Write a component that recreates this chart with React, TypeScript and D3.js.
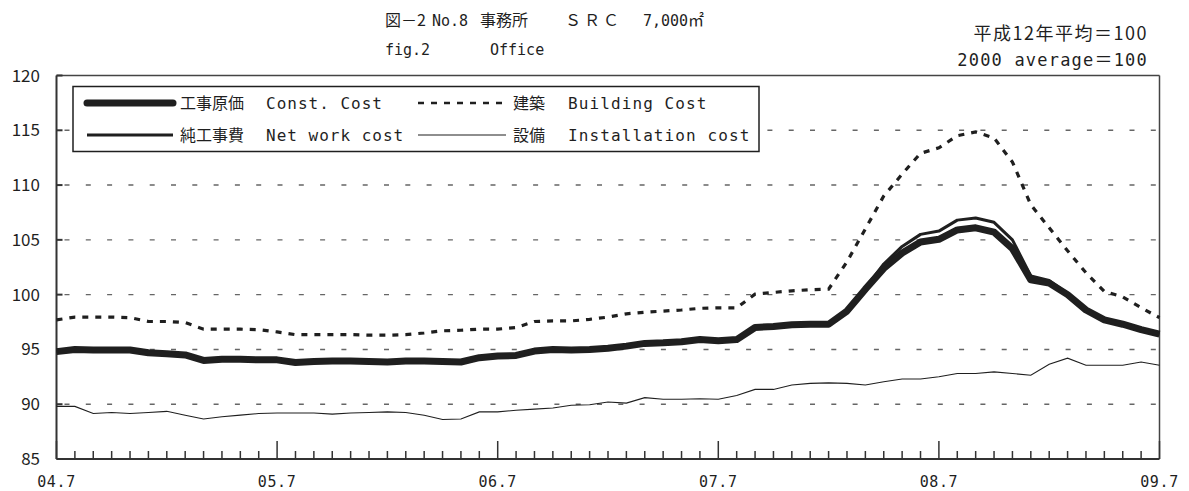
import React from "react";
import * as d3 from "d3";

// Monthly index, 2004.7 .. 2009.7 (61 months)
const monthsCount = 61;
const xTickLabels = ["04.7", "05.7", "06.7", "07.7", "08.7", "09.7"];
const yTicks = [85, 90, 95, 100, 105, 110, 115, 120];
const gridValues = [90, 95, 100, 105, 110, 115];

const constCost = [
  94.8, 95.0, 94.95, 94.95, 94.95, 94.7, 94.6, 94.5, 94.0, 94.1,
  94.1, 94.05, 94.05, 93.8, 93.9, 93.95, 93.95, 93.9, 93.85, 93.95,
  93.95, 93.9, 93.85, 94.25, 94.4, 94.45, 94.85, 95.0, 94.95, 95.0,
  95.1, 95.3, 95.55, 95.6, 95.7, 95.9, 95.8, 95.9, 97.0, 97.1,
  97.25, 97.3, 97.3, 98.5, 100.5, 102.4, 103.8, 104.8, 105.05, 105.9,
  106.1, 105.7, 104.2, 101.35, 101.05, 100.0, 98.6, 97.7, 97.3, 96.8,
  96.4,
];

const netWorkCost = [
  94.8, 95.0, 94.95, 94.95, 94.95, 94.7, 94.6, 94.5, 94.0, 94.1,
  94.1, 94.05, 94.05, 93.8, 93.9, 93.95, 93.95, 93.9, 93.85, 93.95,
  93.95, 93.9, 93.85, 94.25, 94.4, 94.45, 94.85, 95.0, 94.95, 95.0,
  95.1, 95.3, 95.55, 95.6, 95.7, 95.9, 95.8, 95.9, 97.0, 97.1,
  97.25, 97.3, 97.3, 98.5, 100.6, 102.8, 104.4, 105.5, 105.8, 106.8,
  107.0, 106.6, 105.0, 101.7, 101.3, 100.1, 98.6, 97.7, 97.3, 96.8,
  96.4,
];

const buildingCost = [
  97.7, 97.95, 97.95, 97.95, 97.9, 97.55, 97.55, 97.45, 96.85, 96.85,
  96.85, 96.8, 96.6, 96.35, 96.35, 96.35, 96.35, 96.3, 96.3, 96.35,
  96.5, 96.7, 96.75, 96.85, 96.85, 97.0, 97.55, 97.6, 97.6, 97.75,
  97.95, 98.25, 98.4, 98.5, 98.6, 98.75, 98.8, 98.8, 100.05, 100.2,
  100.35, 100.45, 100.5, 103.0, 106.0, 109.0, 111.0, 112.9, 113.4, 114.5,
  114.85, 114.3, 112.1, 108.2, 106.1, 104.0, 102.0, 100.3, 99.8, 98.8,
  97.9,
];

const installationCost = [
  89.8, 89.8, 89.15, 89.25, 89.15, 89.25, 89.35, 89.0, 88.65, 88.85,
  89.0, 89.15, 89.2, 89.2, 89.2, 89.1, 89.2, 89.25, 89.3, 89.25,
  89.0, 88.6, 88.65, 89.3, 89.3, 89.45, 89.55, 89.65, 89.9, 89.95,
  90.2, 90.1, 90.6, 90.45, 90.45, 90.5, 90.45, 90.8, 91.35, 91.35,
  91.75, 91.9, 91.95, 91.9, 91.75, 92.05, 92.3, 92.3, 92.5, 92.8,
  92.8, 92.95, 92.8, 92.65, 93.65, 94.2, 93.55, 93.55, 93.55, 93.85,
  93.55,
];

const W = 1189;
const H = 491;
const left = 56.5;
const right = 1159.5;
const top = 75.5;
const bottom = 459;

const NARROW = "'Liberation Sans Narrow', 'Noto Sans CJK JP', sans-serif";
const MONO = "'DejaVu Sans Mono', monospace";
const CJK = "'Noto Sans CJK JP', sans-serif";
const INK = "#1f1f1f";

export default function App() {
  const x = d3.scaleLinear().domain([0, monthsCount - 1]).range([left, right]);
  const y = d3.scaleLinear().domain([85, 120]).range([bottom, top]);
  const line = d3
    .line<number>()
    .x((_, i) => x(i))
    .y((d) => y(d));

  const monthIdx = d3.range(monthsCount);

  return (
    <svg width={W} height={H} style={{ position: "absolute", left: 0, top: 0, background: "#fff" }}>
      {/* Title */}
      <g fill={INK} fontSize={16}>
        <text x={385} y={26} fontFamily={CJK}>図－2</text>
        <text x={432} y={26} fontFamily={MONO} fontSize={15}>No.8</text>
        <text x={480} y={26} fontFamily={CJK}>事務所</text>
        <text x={565} y={26} fontFamily={CJK} letterSpacing={3}>ＳＲＣ</text>
        <text x={643} y={26} fontFamily={MONO} fontSize={15}>7,000</text>
        <text x={688} y={26} fontFamily={CJK}>㎡</text>
        <text x={385} y={55} fontFamily={MONO} fontSize={15}>fig.2</text>
        <text x={490} y={55} fontFamily={MONO} fontSize={15}>Office</text>
        <text x={1148} y={40} textAnchor="end" fontFamily={CJK} fontSize={18} letterSpacing={1.5}>
          平成12年平均＝100
        </text>
        <text x={1148} y={66} textAnchor="end" fontFamily={MONO} fontSize={17} letterSpacing={1.2}>
          2000 average<tspan fontFamily={CJK} fontSize={18}>＝</tspan>100
        </text>
      </g>

      {/* Grid lines */}
      {gridValues.map((v) => (
        <line
          key={v}
          x1={left + 8}
          x2={right}
          y1={y(v)}
          y2={y(v)}
          stroke="#666"
          strokeWidth={1.4}
          strokeDasharray="5 16.3"
        />
      ))}

      {/* Frame */}
      <line x1={left} x2={right} y1={top} y2={top} stroke="#444" strokeWidth={1.5} />
      <line x1={right} x2={right} y1={top} y2={bottom} stroke="#444" strokeWidth={1.5} />
      <line x1={left} x2={left} y1={top} y2={bottom} stroke="#333" strokeWidth={2} />
      <line x1={left} x2={right} y1={bottom} y2={bottom} stroke="#333" strokeWidth={2} />

      {/* Y ticks and labels */}
      {yTicks.map((v) => (
        <g key={v}>
          <line x1={left} x2={left + 6} y1={y(v)} y2={y(v)} stroke="#333" strokeWidth={2} />
          <text x={40} y={y(v) + 6} textAnchor="end" fontFamily={NARROW} fontSize={17} fill={INK}>
            {v}
          </text>
        </g>
      ))}

      {/* X ticks */}
      {monthIdx.map((i) => {
        const major = i % 12 === 0;
        return (
          <line
            key={i}
            x1={x(i)}
            x2={x(i)}
            y1={bottom}
            y2={bottom - (major ? 18 : 8)}
            stroke="#333"
            strokeWidth={1.5}
          />
        );
      })}
      {xTickLabels.map((t, k) => (
        <text
          key={t}
          x={x(k * 12)}
          y={487}
          textAnchor="middle"
          fontFamily={MONO}
          fontSize={15}
          letterSpacing={0.6}
          fill={INK}
        >
          {t}
        </text>
      ))}

      {/* Series */}
      <path d={line(installationCost) || ""} fill="none" stroke={INK} strokeWidth={1.1} />
      <path
        d={line(buildingCost) || ""}
        fill="none"
        stroke={INK}
        strokeWidth={3.2}
        strokeDasharray="6 7"
      />
      <path d={line(constCost) || ""} fill="none" stroke={INK} strokeWidth={7} strokeLinejoin="round" />
      <path d={line(netWorkCost) || ""} fill="none" stroke={INK} strokeWidth={3} strokeLinejoin="round" />

      {/* Legend */}
      <rect x={73} y={86.5} width={686} height={65} fill="#fff" stroke={INK} strokeWidth={1.5} />
      <g fill={INK}>
        <line x1={87} x2={173} y1={103} y2={103} stroke={INK} strokeWidth={7} strokeLinecap="round" />
        <text x={180} y={109} fontFamily={CJK} fontSize={16}>工事原価</text>
        <text x={266} y={109} fontFamily={MONO} fontSize={16} letterSpacing={1}>Const. Cost</text>
        <line x1={418} x2={506} y1={103} y2={103} stroke={INK} strokeWidth={2.6} strokeDasharray="6 7" />
        <text x={513} y={109} fontFamily={CJK} fontSize={16}>建築</text>
        <text x={568} y={109} fontFamily={MONO} fontSize={16} letterSpacing={1.1}>Building Cost</text>

        <line x1={87} x2={173} y1={135} y2={135} stroke={INK} strokeWidth={3} />
        <text x={180} y={141} fontFamily={CJK} fontSize={16}>純工事費</text>
        <text x={266} y={141} fontFamily={MONO} fontSize={16} letterSpacing={1}>Net work cost</text>
        <line x1={418} x2={506} y1={135} y2={135} stroke={INK} strokeWidth={1.1} />
        <text x={513} y={141} fontFamily={CJK} fontSize={16}>設備</text>
        <text x={568} y={141} fontFamily={MONO} fontSize={16} letterSpacing={1.1}>Installation cost</text>
      </g>
    </svg>
  );
}
